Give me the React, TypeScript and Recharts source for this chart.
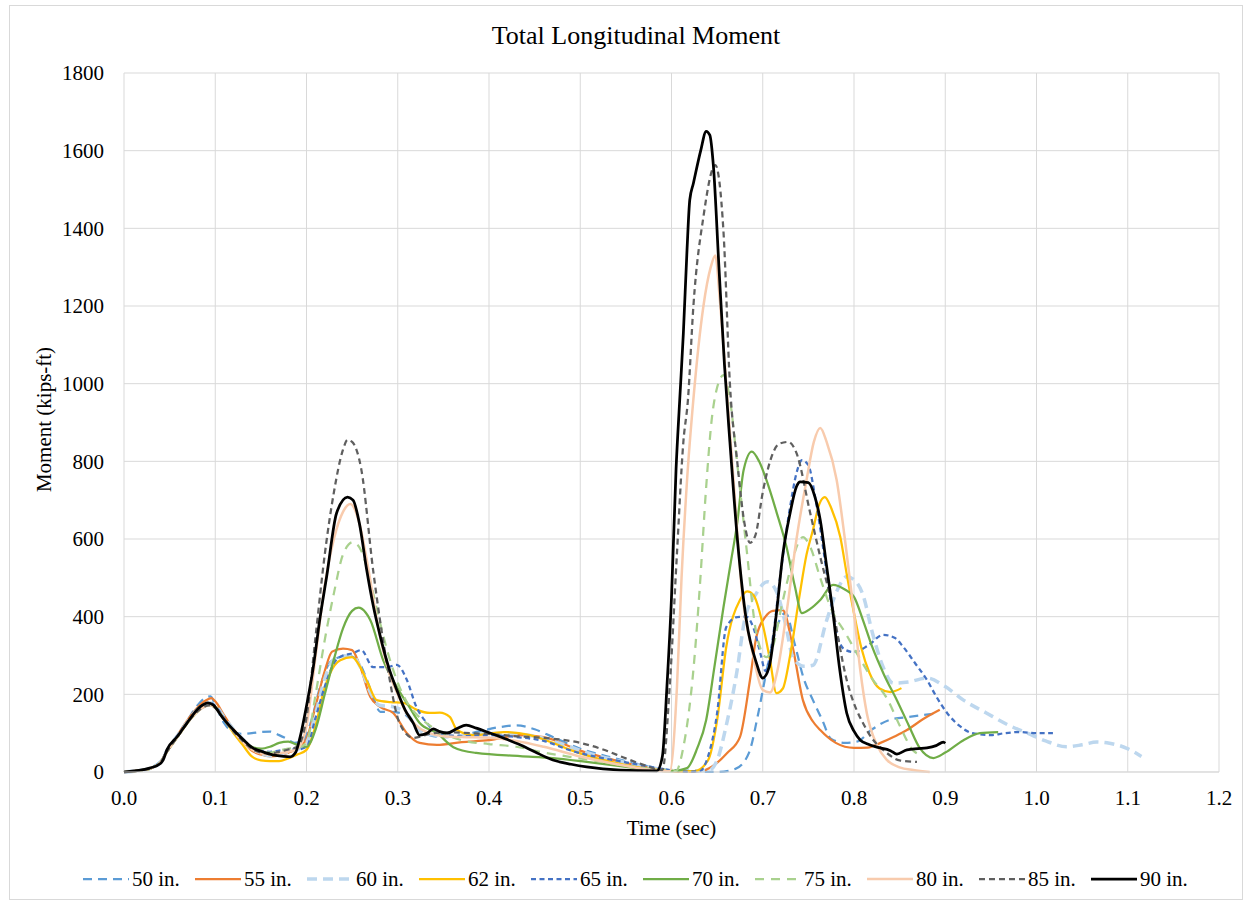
import React from 'react';
import { LineChart, Line, XAxis, YAxis, CartesianGrid, Legend, Label } from 'recharts';

// time (sec), moment (kips-ft)
const in50: [number, number][] = [
  [0, 0], [0.02, 5], [0.03, 12], [0.04, 28], [0.047, 55], [0.06, 100], [0.07, 135], [0.08, 170], [0.09, 192], [0.095, 195],
  [0.1, 172], [0.11, 125], [0.12, 102], [0.13, 98], [0.14, 100], [0.15, 103], [0.16, 104], [0.17, 95], [0.178, 86], [0.187, 75],
  [0.196, 80], [0.205, 130], [0.215, 220], [0.225, 280], [0.235, 295], [0.245, 300], [0.255, 290], [0.265, 245], [0.273, 193],
  [0.281, 155], [0.292, 155], [0.306, 150], [0.32, 120], [0.335, 95], [0.35, 90], [0.37, 95], [0.39, 105], [0.41, 115], [0.43, 120],
  [0.45, 110], [0.47, 90], [0.5, 60], [0.53, 40], [0.56, 22], [0.59, 8], [0.62, 2], [0.65, 0], [0.67, 8], [0.685, 50],
  [0.695, 150], [0.705, 270], [0.715, 370], [0.725, 410], [0.735, 330], [0.745, 240], [0.755, 185], [0.765, 135], [0.775, 85],
  [0.79, 75], [0.803, 78], [0.82, 110], [0.839, 134], [0.86, 142], [0.887, 150],
];
const in55: [number, number][] = [
  [0, 0], [0.02, 5], [0.03, 10], [0.04, 25], [0.047, 55], [0.06, 100], [0.07, 135], [0.08, 165], [0.09, 185], [0.096, 190],
  [0.1, 182], [0.11, 145], [0.12, 110], [0.13, 80], [0.14, 55], [0.15, 45], [0.16, 40], [0.17, 42], [0.18, 50], [0.19, 60],
  [0.2, 85], [0.21, 170], [0.22, 260], [0.228, 310], [0.24, 318], [0.25, 314], [0.259, 270], [0.27, 193], [0.281, 167],
  [0.295, 152], [0.31, 100], [0.324, 75], [0.343, 70], [0.37, 77], [0.4, 82], [0.434, 95], [0.46, 90], [0.5, 55], [0.53, 35],
  [0.56, 18], [0.59, 5], [0.62, 1], [0.631, 2], [0.645, 15], [0.661, 49], [0.675, 90], [0.686, 237], [0.693, 348], [0.703, 400],
  [0.711, 415], [0.722, 417], [0.733, 320], [0.744, 185], [0.755, 130], [0.763, 108], [0.78, 75], [0.8, 62], [0.815, 63],
  [0.829, 75], [0.845, 92], [0.858, 108], [0.875, 135], [0.894, 160],
];
const in60: [number, number][] = [
  [0, 0], [0.02, 5], [0.03, 10], [0.04, 25], [0.047, 55], [0.06, 98], [0.07, 130], [0.08, 160], [0.09, 175], [0.095, 178],
  [0.1, 172], [0.11, 140], [0.12, 110], [0.13, 85], [0.14, 62], [0.15, 48], [0.16, 42], [0.17, 45], [0.18, 52], [0.19, 58],
  [0.2, 75], [0.21, 150], [0.22, 240], [0.23, 290], [0.24, 298], [0.25, 300], [0.26, 265], [0.27, 205], [0.28, 172],
  [0.295, 168], [0.31, 150], [0.325, 105], [0.34, 95], [0.36, 92], [0.39, 98], [0.42, 100], [0.45, 92], [0.48, 72], [0.51, 48],
  [0.54, 30], [0.57, 15], [0.6, 4], [0.64, 3], [0.65, 30], [0.66, 120], [0.672, 263], [0.68, 390], [0.693, 460], [0.705, 490],
  [0.715, 465], [0.725, 380], [0.733, 296], [0.745, 272], [0.755, 275], [0.77, 390], [0.782, 470], [0.792, 503], [0.8, 495],
  [0.81, 455], [0.82, 360], [0.832, 270], [0.843, 229], [0.86, 232], [0.88, 242], [0.9, 220], [0.92, 185], [0.945, 152],
  [0.97, 120], [0.99, 100], [1.01, 80], [1.033, 65], [1.05, 70], [1.066, 77], [1.08, 74], [1.099, 61], [1.115, 40],
];
const in62: [number, number][] = [
  [0, 0], [0.02, 5], [0.03, 10], [0.04, 25], [0.047, 52], [0.06, 95], [0.07, 128], [0.08, 155], [0.09, 172], [0.095, 175],
  [0.1, 168], [0.11, 135], [0.12, 100], [0.13, 70], [0.14, 40], [0.15, 30], [0.16, 28], [0.17, 28], [0.18, 35], [0.19, 45],
  [0.2, 57], [0.21, 120], [0.218, 200], [0.226, 255], [0.237, 288], [0.25, 296], [0.259, 270], [0.268, 225], [0.277, 185],
  [0.292, 180], [0.306, 178], [0.321, 160], [0.335, 152], [0.346, 153], [0.357, 142], [0.365, 108], [0.383, 95], [0.416, 103],
  [0.445, 95], [0.47, 75], [0.489, 57], [0.525, 31], [0.55, 18], [0.576, 8], [0.6, 3], [0.625, 2], [0.64, 30], [0.65, 134],
  [0.66, 322], [0.675, 443], [0.683, 465], [0.69, 455], [0.7, 380], [0.708, 288], [0.715, 203], [0.722, 215], [0.73, 300],
  [0.74, 450], [0.748, 560], [0.755, 623], [0.762, 690], [0.768, 708], [0.775, 680], [0.785, 605], [0.792, 510], [0.8, 409],
  [0.808, 320], [0.817, 255], [0.828, 215], [0.84, 206], [0.852, 216],
];
const in65: [number, number][] = [
  [0, 0], [0.02, 5], [0.03, 10], [0.04, 25], [0.047, 55], [0.06, 98], [0.07, 130], [0.08, 158], [0.09, 175], [0.095, 178],
  [0.1, 170], [0.11, 138], [0.12, 105], [0.13, 80], [0.14, 62], [0.15, 55], [0.16, 52], [0.17, 55], [0.18, 58], [0.19, 58],
  [0.2, 65], [0.21, 140], [0.22, 220], [0.23, 280], [0.24, 300], [0.251, 306], [0.26, 314], [0.273, 270], [0.288, 270],
  [0.299, 276], [0.31, 237], [0.32, 170], [0.332, 126], [0.345, 100], [0.37, 92], [0.4, 95], [0.43, 90], [0.46, 80], [0.49, 55],
  [0.52, 38], [0.55, 25], [0.58, 12], [0.6, 4], [0.62, 1], [0.631, 2], [0.64, 40], [0.65, 152], [0.66, 373], [0.672, 399],
  [0.682, 400], [0.69, 370], [0.698, 300], [0.703, 260], [0.71, 330], [0.72, 520], [0.73, 683], [0.737, 770], [0.743, 803],
  [0.75, 790], [0.758, 700], [0.766, 580], [0.774, 450], [0.781, 357], [0.79, 315], [0.8, 309], [0.815, 325], [0.832, 353],
  [0.845, 345], [0.854, 322], [0.867, 280], [0.88, 237], [0.89, 195], [0.902, 152], [0.915, 120], [0.93, 100], [0.95, 95],
  [0.965, 100], [0.982, 103], [1.0, 100], [1.018, 100],
];
const in70: [number, number][] = [
  [0, 0], [0.02, 5], [0.03, 10], [0.04, 25], [0.047, 52], [0.06, 95], [0.07, 128], [0.08, 155], [0.09, 170], [0.095, 172],
  [0.1, 165], [0.11, 135], [0.12, 105], [0.13, 82], [0.14, 65], [0.15, 60], [0.16, 65], [0.17, 75], [0.18, 78], [0.19, 70],
  [0.2, 65], [0.21, 110], [0.22, 200], [0.23, 290], [0.24, 370], [0.25, 415], [0.257, 423], [0.265, 410], [0.27, 391],
  [0.284, 288], [0.299, 219], [0.312, 170], [0.324, 126], [0.343, 100], [0.361, 64], [0.386, 49], [0.434, 41], [0.47, 36],
  [0.507, 26], [0.544, 15], [0.58, 5], [0.6, 2], [0.617, 10], [0.628, 60], [0.638, 134], [0.647, 270], [0.657, 425],
  [0.665, 540], [0.672, 641], [0.679, 777], [0.688, 825], [0.696, 800], [0.704, 752], [0.715, 670], [0.726, 580],
  [0.735, 480], [0.743, 409], [0.752, 420], [0.763, 443], [0.777, 482], [0.79, 470], [0.8, 451], [0.81, 390], [0.82, 322],
  [0.833, 250], [0.847, 185], [0.86, 120], [0.872, 62], [0.887, 36], [0.9, 50], [0.92, 82], [0.938, 100], [0.958, 103],
];
const in75: [number, number][] = [
  [0, 0], [0.02, 5], [0.03, 10], [0.04, 25], [0.047, 52], [0.06, 95], [0.07, 128], [0.08, 155], [0.09, 170], [0.095, 172],
  [0.1, 165], [0.11, 135], [0.12, 105], [0.13, 80], [0.14, 62], [0.15, 52], [0.16, 50], [0.17, 55], [0.18, 60], [0.19, 62],
  [0.2, 75], [0.21, 200], [0.22, 340], [0.23, 460], [0.24, 560], [0.251, 592], [0.26, 570], [0.27, 490], [0.28, 390],
  [0.29, 300], [0.3, 230], [0.31, 180], [0.32, 150], [0.335, 120], [0.35, 100], [0.37, 82], [0.4, 72], [0.43, 65], [0.46, 50],
  [0.5, 35], [0.54, 20], [0.57, 10], [0.6, 3], [0.605, 3], [0.613, 64], [0.624, 263], [0.631, 476], [0.638, 734], [0.644, 906],
  [0.65, 990], [0.657, 1022], [0.664, 960], [0.672, 795], [0.682, 580], [0.693, 357], [0.704, 296], [0.712, 330], [0.72, 420],
  [0.73, 520], [0.738, 585], [0.744, 605], [0.752, 580], [0.763, 500], [0.775, 420], [0.79, 360], [0.807, 290], [0.82, 240],
  [0.836, 190], [0.85, 120], [0.865, 55], [0.872, 45],
];
const in80: [number, number][] = [
  [0, 0], [0.02, 5], [0.03, 10], [0.04, 25], [0.047, 52], [0.06, 95], [0.07, 128], [0.08, 155], [0.09, 170], [0.095, 172],
  [0.1, 165], [0.11, 135], [0.12, 105], [0.13, 78], [0.14, 58], [0.15, 48], [0.16, 45], [0.17, 48], [0.18, 52], [0.19, 60],
  [0.2, 120], [0.21, 300], [0.22, 480], [0.23, 600], [0.24, 670], [0.248, 690], [0.258, 640], [0.268, 520], [0.278, 380],
  [0.29, 260], [0.3, 200], [0.31, 150], [0.32, 120], [0.335, 100], [0.35, 92], [0.37, 90], [0.4, 88], [0.43, 80], [0.46, 65],
  [0.5, 40], [0.54, 20], [0.57, 8], [0.598, 2], [0.606, 220], [0.611, 500], [0.617, 750], [0.624, 960], [0.635, 1200],
  [0.643, 1300], [0.648, 1330], [0.653, 1215], [0.66, 1000], [0.668, 750], [0.677, 470], [0.689, 306], [0.7, 211],
  [0.708, 205], [0.716, 260], [0.726, 409], [0.737, 600], [0.748, 752], [0.756, 850], [0.763, 886], [0.77, 850], [0.781, 752],
  [0.79, 600], [0.8, 409], [0.807, 260], [0.814, 152], [0.825, 70], [0.836, 31], [0.85, 12], [0.865, 5], [0.883, 0],
];
const in85: [number, number][] = [
  [0, 0], [0.02, 5], [0.03, 10], [0.04, 25], [0.047, 52], [0.06, 95], [0.07, 128], [0.08, 155], [0.09, 170], [0.095, 172],
  [0.1, 165], [0.11, 135], [0.12, 105], [0.13, 80], [0.14, 60], [0.15, 50], [0.16, 48], [0.17, 52], [0.18, 58], [0.19, 65],
  [0.2, 140], [0.21, 350], [0.22, 560], [0.23, 720], [0.24, 830], [0.245, 855], [0.25, 850], [0.26, 780], [0.273, 520],
  [0.288, 281], [0.302, 126], [0.317, 88], [0.339, 100], [0.36, 102], [0.38, 100], [0.4, 98], [0.43, 92], [0.46, 88], [0.5, 75],
  [0.525, 58], [0.55, 35], [0.57, 18], [0.59, 5], [0.598, 219], [0.606, 564], [0.613, 850], [0.618, 958], [0.624, 1200],
  [0.635, 1430], [0.648, 1563], [0.657, 1390], [0.664, 1000], [0.672, 800], [0.68, 640], [0.686, 590], [0.692, 610],
  [0.7, 720], [0.708, 800], [0.718, 845], [0.728, 850], [0.737, 821], [0.752, 667], [0.763, 554], [0.774, 451], [0.792, 237],
  [0.814, 108], [0.836, 49], [0.85, 30], [0.869, 26],
];
const in90: [number, number][] = [
  [0, 0], [0.028, 10], [0.04, 22], [0.043, 31], [0.047, 57], [0.058, 90], [0.069, 126], [0.083, 167], [0.092, 178],
  [0.098, 172], [0.108, 140], [0.12, 108], [0.13, 85], [0.141, 62], [0.152, 52], [0.163, 44], [0.175, 40], [0.182, 39],
  [0.188, 50], [0.193, 90], [0.2, 170], [0.207, 263], [0.215, 400], [0.222, 502], [0.233, 667], [0.245, 708], [0.251, 700],
  [0.258, 640], [0.266, 520], [0.273, 430], [0.281, 348], [0.29, 270], [0.299, 211], [0.308, 160], [0.317, 126], [0.324, 95],
  [0.332, 100], [0.339, 111], [0.346, 104], [0.354, 100], [0.365, 112], [0.375, 121], [0.386, 113], [0.398, 103], [0.415, 88],
  [0.434, 70], [0.45, 52], [0.47, 31], [0.49, 20], [0.507, 13], [0.544, 5], [0.584, 3], [0.59, 40], [0.595, 220], [0.6, 450],
  [0.605, 780], [0.609, 958], [0.613, 1130], [0.617, 1344], [0.62, 1473], [0.624, 1516], [0.632, 1600], [0.638, 1650],
  [0.642, 1640], [0.646, 1558], [0.652, 1300], [0.658, 1050], [0.664, 850], [0.672, 605], [0.682, 391], [0.693, 281],
  [0.7, 242], [0.707, 270], [0.715, 409], [0.722, 560], [0.73, 667], [0.737, 735], [0.741, 747], [0.75, 745], [0.757, 710],
  [0.763, 649], [0.77, 530], [0.777, 409], [0.784, 270], [0.792, 152], [0.8, 105], [0.807, 82], [0.815, 72], [0.825, 64],
  [0.84, 55], [0.847, 46], [0.858, 57], [0.87, 60], [0.88, 62], [0.89, 68], [0.898, 77], [0.9, 74],
];

const xTicks = [0, 0.1, 0.2, 0.3, 0.4, 0.5, 0.6, 0.7, 0.8, 0.9, 1.0, 1.1, 1.2];
const yTicks = [0, 200, 400, 600, 800, 1000, 1200, 1400, 1600, 1800];

const series = [
  { name: '50 in.', pts: in50, color: '#5B9BD5', width: 2.25, dash: '9 6' },
  { name: '55 in.', pts: in55, color: '#ED7D31', width: 2.25, dash: undefined },
  { name: '60 in.', pts: in60, color: '#BDD7EE', width: 3.5, dash: '10 6' },
  { name: '62 in.', pts: in62, color: '#FFC000', width: 2.25, dash: undefined },
  { name: '65 in.', pts: in65, color: '#4472C4', width: 2.25, dash: '5 3.5' },
  { name: '70 in.', pts: in70, color: '#70AD47', width: 2.25, dash: undefined },
  { name: '75 in.', pts: in75, color: '#A9D18E', width: 2.25, dash: '9 7' },
  { name: '80 in.', pts: in80, color: '#F8CBAD', width: 2.5, dash: undefined },
  { name: '85 in.', pts: in85, color: '#5F5F5F', width: 2.25, dash: '6 4' },
  { name: '90 in.', pts: in90, color: '#000000', width: 2.75, dash: undefined },
];

const W = 1232;
const H = 893;
const FONT = '"Liberation Serif", "Times New Roman", serif';
const tickStyle = { fill: '#000', fontSize: 21, fontFamily: FONT };

const renderLegend = () => (
  <div style={{ height: 40, display: 'flex', alignItems: 'center', paddingLeft: 73, fontFamily: FONT }}>
    {series.map(s => (
      <div key={s.name} style={{ width: 112, display: 'flex', alignItems: 'center', flexShrink: 0 }}>
        <svg width={46} height={10} style={{ marginRight: 3 }}>
          <line x1={0} y1={5} x2={46} y2={5} stroke={s.color} strokeWidth={s.width} strokeDasharray={s.dash} />
        </svg>
        <span style={{ fontSize: 21, color: '#000', whiteSpace: 'nowrap' }}>{s.name}</span>
      </div>
    ))}
  </div>
);

const YTitle = (p: any) => {
  const vb = p.viewBox || { x: 0, y: 67, width: 114, height: 699 };
  const cx = vb.x + 34;
  const cy = vb.y + vb.height / 2 - 3;
  return (
    <text x={cx} y={cy} transform={`rotate(-90 ${cx} ${cy})`} textAnchor="middle" dominantBaseline="central" fontSize={21} fontFamily={FONT} fill="#000">
      Moment (kips-ft)
    </text>
  );
};

export default function App() {
  return (
    <div style={{ position: 'absolute', left: 9, top: 5, width: W, height: H, border: '1px solid #D9D9D9', background: '#fff', fontFamily: FONT }}>
      <div style={{ position: 'absolute', left: 10, top: 15, width: W, textAlign: 'center', fontSize: 26, lineHeight: '30px', color: '#000' }}>
        Total Longitudinal Moment
      </div>
      <LineChart width={W} height={H} margin={{ top: 67, right: 23, left: 0, bottom: 0 }} style={{ fontFamily: FONT }}>
        <CartesianGrid stroke="#D9D9D9" strokeWidth={1} />
        <XAxis
          dataKey="t"
          type="number"
          domain={[0, 1.2]}
          ticks={xTicks}
          tickFormatter={(v: number) => v.toFixed(1)}
          tick={tickStyle}
          tickLine={false}
          tickSize={0}
          tickMargin={18}
          axisLine={{ stroke: '#D9D9D9' }}
          height={87}
          allowDuplicatedCategory={false}
          label={{ value: 'Time (sec)', position: 'insideBottom', offset: 24, fontSize: 21, fontFamily: FONT, fill: '#000' }}
        />
        <YAxis
          type="number"
          domain={[0, 1800]}
          ticks={yTicks}
          tick={tickStyle}
          tickLine={false}
          tickSize={0}
          tickMargin={20}
          axisLine={false}
          width={114}
        >
          <Label content={YTitle} />
        </YAxis>
        <Legend verticalAlign="bottom" content={renderLegend} wrapperStyle={{ left: 0, width: W }} />
        {series.map(s => (
          <Line
            key={s.name}
            name={s.name}
            data={s.pts.map(([t, v]) => ({ t, v }))}
            dataKey="v"
            type="monotone"
            stroke={s.color}
            strokeWidth={s.width}
            strokeDasharray={s.dash}
            dot={false}
            activeDot={false}
            isAnimationActive={false}
          />
        ))}
      </LineChart>
    </div>
  );
}
